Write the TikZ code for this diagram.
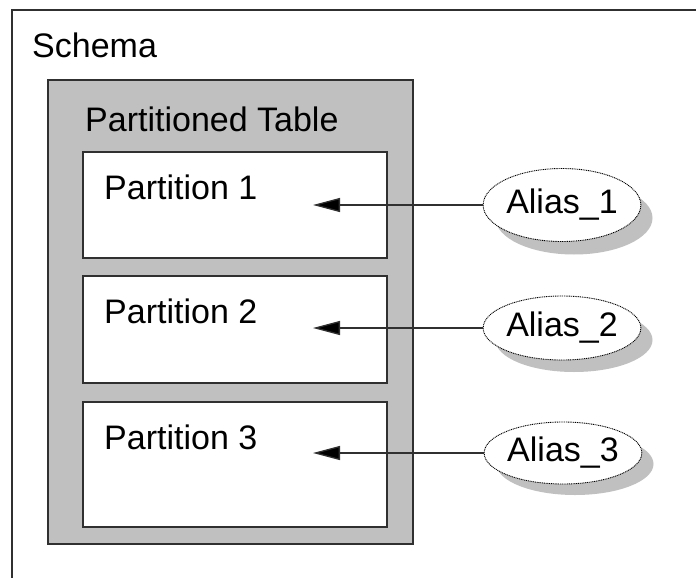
\documentclass[tikz,border=0pt]{standalone}
\usepackage{fontspec}
\setmainfont{Liberation Sans}
\usetikzlibrary{arrows.meta,shapes.geometric}
\definecolor{boxgray}{HTML}{C0C0C0}
\definecolor{edge}{HTML}{303030}
\tikzset{
  lbl/.style={anchor=base west,inner sep=0pt,font=\fontsize{34}{39}\selectfont},
  partbox/.style={draw=edge,line width=1.5pt,fill=white,minimum width=304pt,inner sep=0pt},
  alias/.style={ellipse,draw=black,fill=white,line width=0.9pt,dash pattern=on 1pt off 0.8pt,
    minimum width=157pt,inner sep=0pt,font=\fontsize{34}{39}\selectfont},
  aliasshadow/.style={ellipse,fill=boxgray,minimum width=157pt,inner sep=0pt},
  arr/.style={draw=edge,line width=1.3pt,-{Triangle[length=27pt,width=14pt,fill=black]}}
}
\begin{document}
\begin{tikzpicture}[x=1pt,y=-1pt]
\useasboundingbox[fill=white] (0,0) rectangle (696,578);
% schema frame (cut by the page)
\draw[edge,line width=1.5pt] (12,578) -- (12,10) -- (696,10);
\node[lbl] (schema) at (32,58) {Schema};
% partitioned table
\node[draw=edge,line width=1.5pt,fill=boxgray,minimum width=365pt,minimum height=464pt,inner sep=0pt] (tbl) at (230.5,312) {};
\node[lbl] (tbltxt) at (85,131) {Partitioned Table};
% partitions
\node[partbox,minimum height=106pt] (p1) at (235,205) {};
\node[partbox,minimum height=107pt] (p2) at (235,329.5) {};
\node[partbox,minimum height=125pt] (p3) at (235,464.5) {};
\node[lbl] (p1t) at (104,199) {Partition 1};
\node[lbl] (p2t) at (104,323) {Partition 2};
\node[lbl] (p3t) at (104,449) {Partition 3};
% alias shadows
\node[aliasshadow,minimum height=73pt] (s1) at (574,218) {};
\node[aliasshadow,minimum height=64pt] (s2) at (574,340) {};
\node[aliasshadow,minimum height=62pt] (s3) at (575,464) {};
% aliases
\node[alias,minimum height=73pt] (a1) at (562,205) {Alias\_1};
\node[alias,minimum height=64pt] (a2) at (562,328) {Alias\_2};
\node[alias,minimum height=62pt] (a3) at (563,453) {Alias\_3};
% arrow tips
\coordinate (t1) at (313,205);
\coordinate (t2) at (313,328);
\coordinate (t3) at (313,453);
\draw[arr] (a1.west) -- (t1);
\draw[arr] (a2.west) -- (t2);
\draw[arr] (a3.west) -- (t3);
\end{tikzpicture}
\end{document}
